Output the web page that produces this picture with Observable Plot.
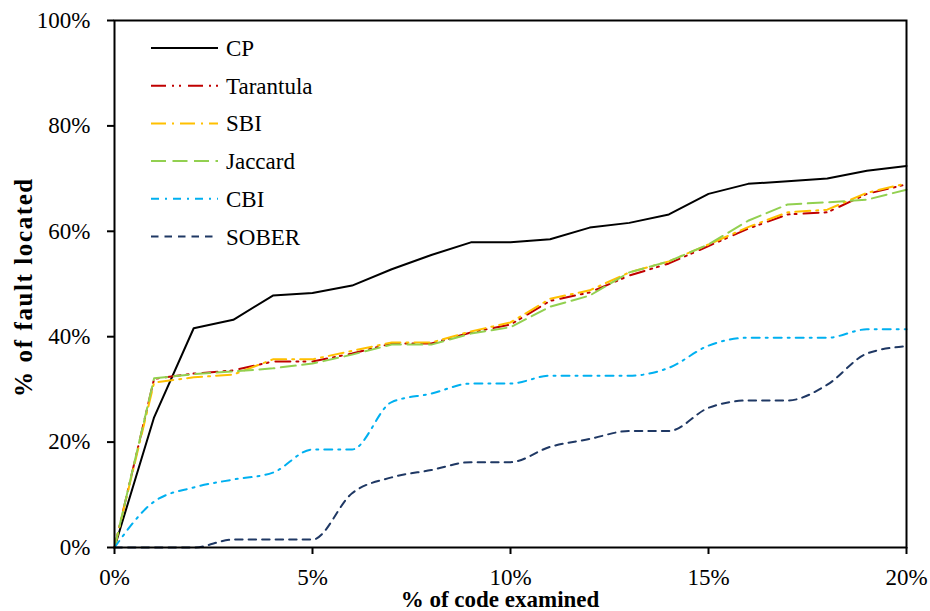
<!DOCTYPE html>
<html><head><meta charset="utf-8">
<script src="https://cdn.jsdelivr.net/npm/d3@7"></script>
<script src="https://cdn.jsdelivr.net/npm/@observablehq/plot@0.6"></script>
<style>
body{margin:0;background:#fff}
#chart{position:relative;width:930px;height:611px}
#chart svg, #chart svg text{font-family:"Liberation Serif","Times New Roman","DejaVu Serif",serif}
</style>
</head><body><div id="chart"></div>
<script>
// ---- data ----
const codeExamined = [0,1,2,3,4,5,6,7,8,9,10,11,12,13,14,15,16,17,18,19,20];
const seriesNames = ["CP","Tarantula","SBI","Jaccard","CBI","SOBER"];
const cp        = [0,24.7,41.6,43.2,47.8,48.3,49.7,52.8,55.5,57.9,57.9,58.5,60.7,61.6,63.2,67.1,69.0,69.5,70.0,71.5,72.4];
const tarantula = [0,32.0,33.0,33.6,35.3,35.3,36.8,38.7,38.7,40.8,42.3,46.8,48.4,51.6,53.9,57.2,60.5,63.2,63.6,67.1,68.9];
const sbi       = [0,31.3,32.3,32.8,35.7,35.7,37.3,38.9,38.9,41.0,42.7,47.2,48.8,52.2,54.3,57.5,60.8,63.6,64.1,67.3,69.1];
const jaccard   = [0,32.1,32.9,33.4,34.0,34.9,36.6,38.5,38.5,40.6,41.8,45.7,47.8,52.2,54.3,57.5,62.0,65.1,65.5,66.0,67.9];
const cbi       = [0,8.7,11.4,12.9,14.2,18.6,18.6,27.6,29.2,31.1,31.1,32.6,32.6,32.6,34.1,38.3,39.8,39.8,39.8,41.4,41.4];
const sober     = [0,0,0,1.5,1.5,1.5,10.3,13.3,14.7,16.2,16.2,19.1,20.6,22.1,22.1,26.5,27.9,27.9,30.9,36.8,38.2];
const xTicks = [0,5,10,15,20];
const yTicks = [0,20,40,60,80,100];
const xTitle = "% of code examined";
const yTitle = "% of fault located";

// ---- styles ----
const colors = ["#000000","#C00000","#FFC000","#92D050","#00B0F0","#1F3864"];
const dashes = [null,"15,6,2,5,2,7","15,6,2,6","15,6.5","8,6,2,6","7.5,6"];
const curves = ["linear","linear","linear","linear","monotone-x","monotone-x"];

const valuesBySeries = [cp, tarantula, sbi, jaccard, cbi, sober];
const rows = seriesNames.flatMap((name, i) =>
  codeExamined.map((x, j) => ({name, x, y: valuesBySeries[i][j]})));

const font = '"Liberation Serif","Times New Roman","DejaVu Serif",serif';

const lineMarks = seriesNames.map((name, i) =>
  Plot.line(rows.filter(d => d.name === name), {
    x: "x", y: "y", stroke: colors[i], strokeWidth: 2,
    strokeDasharray: dashes[i] || undefined, curve: curves[i]
  }));

const chart = Plot.plot({
  width: 930, height: 611,
  marginLeft: 114, marginRight: 24, marginTop: 20, marginBottom: 64,
  style: {fontFamily: font, fontSize: "23px", color: "black", background: "white", overflow: "visible"},
  x: {domain: [0, 20]},
  y: {domain: [0, 100]},
  marks: [
    ...lineMarks,
    Plot.frame({stroke: "black", strokeWidth: 2}),
    Plot.axisX({ticks: xTicks, tickFormat: d => d + "%", tickSize: 7, tickPadding: 14, strokeWidth: 2, label: null, fontSize: 23}),
    Plot.axisY({ticks: yTicks, tickFormat: d => d + "%", tickSize: 7, tickPadding: 17, strokeWidth: 2, label: null, fontSize: 23})
  ]
});
document.getElementById("chart").appendChild(chart);

const svg = d3.select(chart);

// ---- axis titles ----
svg.append("text").attr("x", 500).attr("y", 607).attr("text-anchor", "middle")
  .attr("font-family", font).attr("font-size", 23).attr("font-weight", "bold")
  .attr("fill", "black").text(xTitle);
svg.append("text").attr("transform", "translate(32,287) rotate(-90)").attr("text-anchor", "middle")
  .attr("font-family", font).attr("font-size", 25).attr("font-weight", "bold")
  .attr("letter-spacing", 1.6)
  .attr("fill", "black").text(yTitle);

// ---- legend (inside plot, top-left) ----
const lg = svg.append("g").attr("transform", "translate(151,48)").attr("text-anchor", "start");
seriesNames.forEach((name, i) => {
  const g = lg.append("g").attr("transform", `translate(0,${i * 37.7})`);
  g.append("line").attr("x1", 0).attr("x2", 67).attr("y1", 0).attr("y2", 0)
    .attr("stroke", colors[i]).attr("stroke-width", 2)
    .attr("stroke-dasharray", dashes[i]);
  g.append("text").attr("x", 75).attr("y", 0).attr("dy", "0.35em")
    .attr("text-anchor", "start")
    .attr("font-family", font).attr("font-size", 23).attr("fill", "black").text(name);
});
</script>
</body></html>
